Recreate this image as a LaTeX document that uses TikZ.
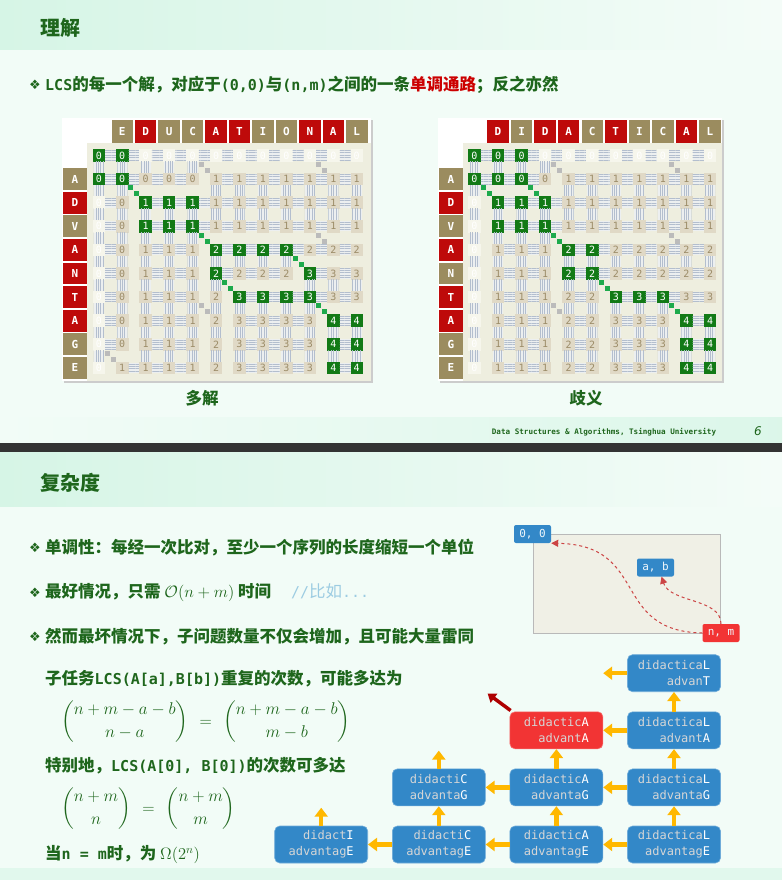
\RequirePackage{fix-cm}
\documentclass[tikz,border=0pt]{standalone}
\usepackage{fontspec}
\usepackage{amsmath}
\setmainfont{Noto Sans CJK SC}
\setmonofont{DejaVu Sans Mono}
\newfontfamily\symfont{DejaVu Sans}
\usetikzlibrary{arrows.meta, patterns.meta, positioning}

\definecolor{bgmint}{HTML}{F2FCF7}
\definecolor{bandl}{HTML}{D6F5E6}
\definecolor{bandr}{HTML}{F4FCF8}
\definecolor{sepdark}{HTML}{333333}
\definecolor{txtgreen}{HTML}{1E661C}
\definecolor{hired}{HTML}{CC0000}
\definecolor{comblue}{HTML}{9CCCE2}
\definecolor{gridbg}{HTML}{EEEEDF}
\definecolor{olv}{HTML}{9B8C5F}
\definecolor{rd}{HTML}{BE0A0A}
\definecolor{celltan}{HTML}{E0D9C6}
\definecolor{celltxt}{HTML}{9C8C68}
\definecolor{cellgreen}{HTML}{127A16}
\definecolor{cellfade}{HTML}{F6F6EC}
\definecolor{hatchc}{HTML}{B3BECE}
\definecolor{hatchbg}{HTML}{ECEFF0}
\definecolor{diaggreen}{HTML}{1DAA4C}
\definecolor{diaggray}{HTML}{BBBBBB}
\definecolor{boxblue}{HTML}{3388C8}
\definecolor{boxred}{HTML}{F23434}
\definecolor{boxgray}{HTML}{D6D6D6}
\definecolor{arrowyel}{HTML}{FFB800}
\definecolor{arrowred}{HTML}{AE0000}
\definecolor{panelbg}{HTML}{F0F0E6}
\definecolor{dashred}{HTML}{CC4444}

\newcommand{\tm}[1]{{\fontsize{15}{18}\selectfont\ttfamily #1}}
\newcommand{\lastch}[1]{\textcolor{white}{#1}}

\tikzset{
  txt/.style = {anchor = west, inner sep = 0pt, text = txtgreen,
    font = \fontsize{16.5}{20}\selectfont\bfseries},
  mathline/.style = {txt, font = \fontsize{17}{20}\selectfont, text height = 20pt, text depth = 12pt},
  bul/.style = {inner sep = 0pt, text = txtgreen, font = \symfont\fontsize{13}{13}\selectfont},
  hdcell/.style = {inner sep = 0pt, minimum width = 21.5pt, minimum height = 23pt,
    text = white, font = \ttfamily\bfseries\fontsize{11}{11}\selectfont},
  numcell/.style = {minimum size = 12.5pt, inner sep = 0pt, font = \ttfamily\fontsize{10}{10}\selectfont},
  tancell/.style = {numcell, fill = celltan, text = celltxt},
  pathcell/.style = {numcell, fill = cellgreen, text = white},
  fadecell/.style = {numcell, fill = cellfade, text = white},
  hhatch/.style = {preaction = {fill = hatchbg}, pattern color = hatchc,
    pattern = {Lines[angle = 0, distance = 2.4pt, line width = 0.9pt]}},
  vhatch/.style = {preaction = {fill = hatchbg}, pattern color = hatchc,
    pattern = {Lines[angle = 90, distance = 2.4pt, line width = 0.9pt]}},
  sbox/.style = {fill = boxblue, draw = boxblue!70!white, line width = 0.6pt,
    rounded corners = 5pt, minimum width = 93pt, minimum height = 37pt,
    inner sep = 0pt, align = right, text = boxgray,
    font = \ttfamily\fontsize{12}{16}\selectfont},
  tag/.style = {fill = boxblue, rounded corners = 2pt, minimum width = 37pt,
    minimum height = 18pt, inner sep = 0pt, text = white!92!boxblue,
    font = \ttfamily\fontsize{11}{11}\selectfont},
  yarr/.style = {draw = arrowyel, line width = 4.5pt, -{Triangle[width = 13pt, length = 9pt]}},
  rarr/.style = {draw = arrowred, line width = 3.5pt, -{Triangle[width = 11pt, length = 8pt]}},
  darr/.style = {draw = dashred, line width = 1pt, dashed, -{Triangle[width = 7pt, length = 7pt]}}
}

% one LCS table: prefix, x of column 0, column pitch, last column, values, states, diagonals
\newcommand{\lcsgrid}[7]{
  \foreach \i in {0,...,9}{
    \foreach \j in {0,...,#4}{
      \pgfmathsetmacro\cx{#2+#3*\j}
      \pgfmathsetmacro\cy{155.5+23.6*\i}
      \pgfmathtruncatemacro\ck{\i*(#4+1)+\j}
      \pgfmathtruncatemacro\cv{#5[\ck]}
      \pgfmathtruncatemacro\cstate{#6[\ck]}
      \ifnum\j>0
        \pgfmathtruncatemacro\vleft{#5[\ck-1]}
        \ifnum\vleft=\cv
          \fill[hhatch] (\cx-#3+6.25,\cy-5) rectangle (\cx-6.25,\cy+5);
        \fi
      \fi
      \ifnum\i>0
        \pgfmathtruncatemacro\vup{#5[\ck-#4-1]}
        \ifnum\vup=\cv
          \fill[vhatch] (\cx-5,\cy-23.6+6.25) rectangle (\cx+5,\cy-6.25);
        \fi
      \fi
      \ifcase\cstate \def\cstyle{tancell}\or \def\cstyle{pathcell}\or \def\cstyle{fadecell}\fi
      \node[\cstyle] (#1-\i-\j) at (\cx,\cy) {\cv};
    }
  }
  \foreach \di/\dj/\dc in {#7}{
    \pgfmathsetmacro\mx{#2+#3*(\dj-0.5)}
    \pgfmathsetmacro\my{155.5+23.6*(\di-0.5)}
    \fill[\dc] (\mx-5.5,\my-5.5) rectangle +(5,5);
    \fill[\dc] (\mx+0.5,\my+0.5) rectangle +(5,5);
  }
}

\def\valsL{{0,0,0,0,0,0,0,0,0,0,0,0,
  0,0,0,0,0,1,1,1,1,1,1,1,
  0,0,1,1,1,1,1,1,1,1,1,1,
  0,0,1,1,1,1,1,1,1,1,1,1,
  0,0,1,1,1,2,2,2,2,2,2,2,
  0,0,1,1,1,2,2,2,2,3,3,3,
  0,0,1,1,1,2,3,3,3,3,3,3,
  0,0,1,1,1,2,3,3,3,3,4,4,
  0,0,1,1,1,2,3,3,3,3,4,4,
  0,1,1,1,1,2,3,3,3,3,4,4}}
\def\statesL{{1,1,2,2,2,2,2,2,2,2,2,2,
  1,1,0,0,0,0,0,0,0,0,0,0,
  2,0,1,1,1,0,0,0,0,0,0,0,
  2,0,1,1,1,0,0,0,0,0,0,0,
  2,0,0,0,0,1,1,1,1,0,0,0,
  2,0,0,0,0,1,0,0,0,1,0,0,
  2,0,0,0,0,0,1,1,1,1,0,0,
  2,0,0,0,0,0,0,0,0,0,1,1,
  2,0,0,0,0,0,0,0,0,0,1,1,
  2,0,0,0,0,0,0,0,0,0,1,1}}
\def\valsR{{0,0,0,0,0,0,0,0,0,0,0,
  0,0,0,0,1,1,1,1,1,1,1,
  0,1,1,1,1,1,1,1,1,1,1,
  0,1,1,1,1,1,1,1,1,1,1,
  0,1,1,1,2,2,2,2,2,2,2,
  0,1,1,1,2,2,2,2,2,2,2,
  0,1,1,1,2,2,3,3,3,3,3,
  0,1,1,1,2,2,3,3,3,4,4,
  0,1,1,1,2,2,3,3,3,4,4,
  0,1,1,1,2,2,3,3,3,4,4}}
\def\statesR{{1,1,1,2,2,2,2,2,2,2,2,
  1,1,1,0,0,0,0,0,0,0,0,
  2,1,1,1,0,0,0,0,0,0,0,
  2,1,1,1,0,0,0,0,0,0,0,
  2,0,0,0,1,1,0,0,0,0,0,
  2,0,0,0,1,1,0,0,0,0,0,
  2,0,0,0,0,0,1,1,1,0,0,
  2,0,0,0,0,0,0,0,0,1,1,
  2,0,0,0,0,0,0,0,0,1,1,
  2,0,0,0,0,0,0,0,0,1,1}}

\begin{document}
\begin{tikzpicture}[x = 1pt, y = -1pt]
  \useasboundingbox (0,0) rectangle (782,880);
  % backgrounds
  \fill[bgmint] (0,0) rectangle (782,880);
  \shade[left color = bandl, right color = bandr] (0,0) rectangle (782,50);
  \shade[left color = bgmint, right color = bandl!80!bgmint] (0,417) rectangle (782,443);
  \fill[sepdark] (0,443) rectangle (782,452);
  \shade[left color = bandl, right color = bandr] (0,452) rectangle (782,506);
  \fill[bandl!60!bgmint] (0,868) rectangle (782,880);

  % slide 1
  \node[txt, font = \fontsize{20}{24}\selectfont\bfseries] (title1) at (40,28) {理解};
  \node[bul] (bul0) at (35,85) {❖};
  \node[txt] (line0) at (45,85) {\tm{LCS}的每一个解，对应于\tm{(0,0)}与\tm{(n,m)}之间的一条\textcolor{hired}{单调通路}；反之亦然};

  % left table
  \fill[gray!40] (64,120) rectangle (373,383);
  \fill[white] (62,118) rectangle (371,381);
  \fill[gridbg] (87,143) rectangle (371,381);
  \foreach \ch/\hc [count = \j] in {E/olv,D/rd,U/olv,C/olv,A/rd,T/rd,I/olv,O/olv,N/rd,A/rd,L/olv}
    \node[hdcell, fill = \hc] (lh-\j) at (98.8+23.45*\j,131.5) {\ch};
  \foreach \ch/\hc [count = \i] in {A/olv,D/rd,V/olv,A/rd,N/rd,T/rd,A/rd,G/olv,E/olv}
    \node[hdcell, fill = \hc, minimum width = 23.5pt, minimum height = 21.8pt] (lr-\i) at (75,155.5+23.6*\i) {\ch};
  \lcsgrid{l}{98.8}{23.45}{11}{\valsL}{\statesL}{1/5/diaggray,1/10/diaggray,2/2/diaggreen,4/5/diaggreen,4/10/diaggray,5/9/diaggreen,6/6/diaggreen,7/5/diaggray,7/10/diaggreen,9/1/diaggray}

  % right table
  \fill[gray!40] (440,120) rectangle (724,383);
  \fill[white] (438,118) rectangle (722,381);
  \fill[gridbg] (463,143) rectangle (722,381);
  \foreach \ch/\hc [count = \j] in {D/rd,I/olv,D/rd,A/rd,C/olv,T/rd,I/olv,C/olv,A/rd,L/olv}
    \node[hdcell, fill = \hc] (rh-\j) at (474.5+23.55*\j,131.5) {\ch};
  \foreach \ch/\hc [count = \i] in {A/olv,D/rd,V/olv,A/rd,N/olv,T/rd,A/rd,G/olv,E/olv}
    \node[hdcell, fill = \hc, minimum width = 23.5pt, minimum height = 21.8pt] (rr-\i) at (451,155.5+23.6*\i) {\ch};
  \lcsgrid{r}{474.5}{23.55}{10}{\valsR}{\statesR}{1/4/diaggray,1/9/diaggray,2/1/diaggreen,2/3/diaggreen,4/4/diaggreen,4/9/diaggray,6/6/diaggreen,7/4/diaggray,7/9/diaggreen}

  \node[txt, anchor = center] (cap1) at (202,398) {多解};
  \node[txt, anchor = center] (cap2) at (586,398) {歧义};
  \node[txt, anchor = center, font = \ttfamily\bfseries\fontsize{7.6}{9}\selectfont] (foot) at (604,432) {Data Structures \& Algorithms, Tsinghua University};
  \node[txt, anchor = center, font = \symfont\itshape\fontsize{12}{12}\selectfont] (page) at (758,431) {6};

  % slide 2
  \node[txt, font = \fontsize{20}{24}\selectfont\bfseries] (title2) at (40,483) {复杂度};
  \node[bul] (bul1) at (35,548) {❖};
  \node[txt] (line1) at (45,548) {单调性：每经一次比对，至少一个序列的长度缩短一个单位};
  \node[bul] (bul2) at (35,593) {❖};
  \node[txt] (line2) at (45,593) {最好情况，只需 $\mathcal{O}(n+m)$ 时间\hspace{20pt}\textcolor{comblue}{\mdseries\tm{//}比如\tm{...}}};
  \node[bul] (bul3) at (35,637) {❖};
  \node[txt] (line3) at (45,637) {然而最坏情况下，子问题数量不仅会增加，且可能大量雷同};
  \node[txt] (line4) at (45,679) {子任务\tm{LCS(A[a],B[b])}重复的次数，可能多达为};
  \node[mathline] (eq1) at (61,722) {$\displaystyle\binom{n+m-a-b}{n-a} \mskip 7mu = \mskip 7mu \binom{n+m-a-b}{m-b}$};
  \node[txt] (line5) at (45,766) {特别地，\tm{LCS(A[0], B[0])}的次数可多达};
  \node[mathline] (eq2) at (61,809) {$\displaystyle\binom{n+m}{n} \mskip 7mu = \mskip 7mu \binom{n+m}{m}$};
  \node[txt] (line6) at (45,854) {当\tm{n = m}时，为 $\Omega(2^n)$};

  % grid sketch
  \draw[gray!55, fill = panelbg] (533,534) rectangle (720,633);
  \node[tag] (zz) at (532.5,534) {0, 0};
  \node[tag] (ab) at (655.5,567.5) {a, b};
  \node[tag, fill = boxred] (nm) at (721,633) {n, m};
  \draw[darr] (nm.west) .. controls (610,631) and (650,545) .. (zz.south east);
  \draw[darr] (nm.north) .. controls (721,598) and (670,603) .. ([xshift = 6pt]ab.south);

  % subproblem boxes
  \node[sbox] (e4) at (674,844.5) {didactica\lastch{L}\\advantag\lastch{E}};
  \node[sbox, left = 24pt of e4] (e3) {didactic\lastch{A}\\advantag\lastch{E}};
  \node[sbox, left = 24pt of e3] (e2) {didacti\lastch{C}\\advantag\lastch{E}};
  \node[sbox, left = 24pt of e2] (e1) {didact\lastch{I}\\advantag\lastch{E}};
  \node[sbox, above = 19.5pt of e4] (g4) {didactica\lastch{L}\\advanta\lastch{G}};
  \node[sbox, above = 19.5pt of e3] (g3) {didactic\lastch{A}\\advanta\lastch{G}};
  \node[sbox, above = 19.5pt of e2] (g2) {didacti\lastch{C}\\advanta\lastch{G}};
  \node[sbox, above = 19.5pt of g4] (a4) {didactica\lastch{L}\\advant\lastch{A}};
  \node[sbox, fill = boxred, draw = boxred!70!white, above = 19.5pt of g3] (a3) {didactic\lastch{A}\\advant\lastch{A}};
  \node[sbox, above = 19.5pt of a4] (t4) {didactica\lastch{L}\\advan\lastch{T}};
  \coordinate[left = 24pt of t4] (t4x);
  \coordinate[above = 18pt of g2] (g2x);
  \coordinate[above = 18pt of e1] (e1x);
  \coordinate[above left = 18pt and 22pt of a3] (a3x);

  \draw[yarr] (t4.west) -- (t4x);
  \draw[yarr] (a4.west) -- (a3.east);
  \draw[yarr] (g4.west) -- (g3.east);
  \draw[yarr] (g3.west) -- (g2.east);
  \draw[yarr] (e4.west) -- (e3.east);
  \draw[yarr] (e3.west) -- (e2.east);
  \draw[yarr] (e2.west) -- (e1.east);
  \draw[yarr] (e4.north) -- (g4.south);
  \draw[yarr] (g4.north) -- (a4.south);
  \draw[yarr] (a4.north) -- (t4.south);
  \draw[yarr] (e3.north) -- (g3.south);
  \draw[yarr] (g3.north) -- (a3.south);
  \draw[yarr] (e2.north) -- (g2.south);
  \draw[yarr] (g2.north) -- (g2x);
  \draw[yarr] (e1.north) -- (e1x);
  \draw[rarr] ([shift = {(1pt,1pt)}]a3.north west) -- (a3x);
\end{tikzpicture}
\end{document}
